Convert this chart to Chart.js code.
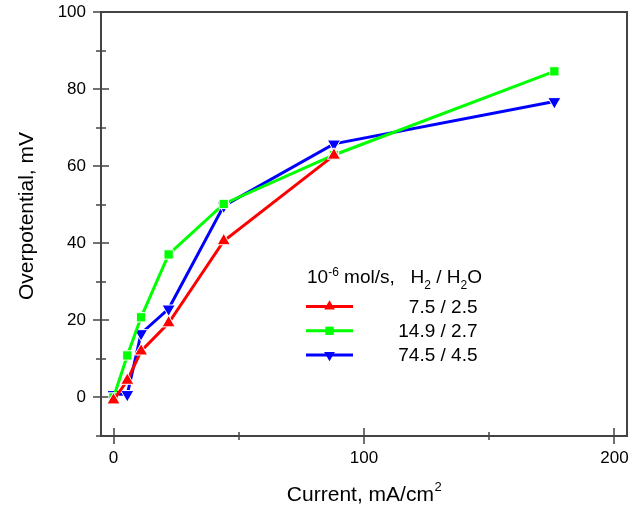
<!DOCTYPE html>
<html>
<head>
<meta charset="utf-8">
<script src="https://cdn.jsdelivr.net/npm/chart.js"></script>
<style>
  html, body { margin: 0; padding: 0; background: #fff; }
  #wrap { width: 641px; height: 506px; }
</style>
</head>
<body>
<div id="wrap"><canvas id="chart" width="641" height="506"></canvas></div>
<script>
// current density, mA/cm2 (same for all runs)
const current = [0, 5.5, 11, 22, 44, 88, 176];
// overpotential, mV
const redMv = [-0.7, 4.4, 12.0, 19.3, 40.6, 62.8];
const greenMv = [0, 10.9, 20.8, 37.1, 50.2, 62.9, 84.6];
const blueMv = [0.8, 0.8, 16.6, 23.0, 49.7, 65.8, 76.8];
const flowLabels = ['7.5 / 2.5', '14.9 / 2.7', '74.5 / 4.5'];

const xTicks = [0, 100, 200];
const xMinor = [50, 150];
const yTicks = [0, 20, 40, 60, 80, 100];
const yMinor = [-10, 10, 30, 50, 70, 90];

const FONT = "'Liberation Sans', Arial, sans-serif";
const AXIS = '#444';

const toPoints = (ys) => ys.map((y, i) => ({ x: current[i], y: y }));

function series(label, ys, color, style, rot) {
  const r = style === 'rect' ? 6.6 : 7.6;
  return {
    label: label,
    data: toPoints(ys),
    borderColor: color,
    backgroundColor: color,
    borderWidth: 3,
    pointStyle: style,
    pointRotation: rot,
    pointRadius: r,
    pointHoverRadius: r,
    pointBackgroundColor: color,
    pointBorderColor: '#fff',
    pointBorderWidth: 1,
    tension: 0
  };
}

function marker(ctx, style, rot, cx, cy, r) {
  ctx.beginPath();
  if (style === 'rect') {
    const s = r * Math.SQRT1_2;
    ctx.rect(cx - s, cy - s, 2 * s, 2 * s);
  } else {
    const d = rot ? -1 : 1;
    ctx.moveTo(cx, cy - d * r);
    ctx.lineTo(cx + r * 0.866, cy + d * r * 0.5);
    ctx.lineTo(cx - r * 0.866, cy + d * r * 0.5);
    ctx.closePath();
  }
  ctx.fill();
}

// box + ticks that cross the axis lines
const frame = {
  id: 'frame',
  beforeDatasetsDraw(chart) {
    const { ctx, chartArea: a, scales: { x, y } } = chart;
    ctx.save();
    ctx.strokeStyle = AXIS;
    ctx.lineWidth = 2;
    ctx.strokeRect(Math.round(a.left), Math.round(a.top), Math.round(a.right - a.left), Math.round(a.bottom - a.top));
    ctx.lineWidth = 1.5;
    ctx.beginPath();
    const b = Math.round(a.bottom), l = Math.round(a.left);
    xTicks.forEach(v => { const p = Math.round(x.getPixelForValue(v)); ctx.moveTo(p, b - 8); ctx.lineTo(p, b + 8); });
    xMinor.forEach(v => { const p = Math.round(x.getPixelForValue(v)); ctx.moveTo(p, b - 4); ctx.lineTo(p, b + 4); });
    yTicks.forEach(v => { const p = Math.round(y.getPixelForValue(v)); ctx.moveTo(l - 8, p); ctx.lineTo(l + 8, p); });
    yMinor.forEach(v => { const p = Math.round(y.getPixelForValue(v)); ctx.moveTo(l - 5, p); ctx.lineTo(l + 5, p); });
    ctx.stroke();
    ctx.restore();
  }
};

// axis titles and the legend box inside the plot
const labels = {
  id: 'labels',
  afterDraw(chart) {
    const { ctx, chartArea: a } = chart;
    ctx.save();
    ctx.fillStyle = '#000';
    ctx.textBaseline = 'alphabetic';

    // x title with superscript
    ctx.font = '21px ' + FONT;
    const main = 'Current, mA/cm';
    const wMain = ctx.measureText(main).width;
    ctx.font = '13px ' + FONT;
    const wSup = ctx.measureText('2').width;
    let x0 = (a.left + a.right) / 2 - (wMain + wSup) / 2;
    ctx.font = '21px ' + FONT;
    ctx.textAlign = 'left';
    ctx.fillText(main, x0, 500.5);
    ctx.font = '13px ' + FONT;
    ctx.fillText('2', x0 + wMain + 0.5, 491);

    // y title
    ctx.save();
    ctx.translate(33, 216);
    ctx.rotate(-Math.PI / 2);
    ctx.font = '21px ' + FONT;
    ctx.textAlign = 'center';
    ctx.fillText('Overpotential, mV', 0, 0);
    ctx.restore();

    // legend title: 10^-6 mol/s,  H2 / H2O
    const parts = [
      { t: '10', s: 19, dy: 0 },
      { t: '-6', s: 12, dy: -7 },
      { t: ' mol/s,   H', s: 19, dy: 0 },
      { t: '2', s: 12, dy: 6 },
      { t: ' / H', s: 19, dy: 0 },
      { t: '2', s: 12, dy: 6 },
      { t: 'O', s: 19, dy: 0 }
    ];
    let tx = 307;
    ctx.textAlign = 'left';
    parts.forEach(p => {
      ctx.font = p.s + 'px ' + FONT;
      ctx.fillText(p.t, tx, 282.5 + p.dy);
      tx += ctx.measureText(p.t).width;
    });

    // legend rows
    chart.data.datasets.forEach((ds, i) => {
      const cy = 306.5 + i * 24.3;
      ctx.strokeStyle = ds.borderColor;
      ctx.lineWidth = 3;
      ctx.beginPath();
      ctx.moveTo(306, cy);
      ctx.lineTo(353, cy);
      ctx.stroke();
      ctx.fillStyle = ds.borderColor;
      marker(ctx, ds.pointStyle, ds.pointRotation, 329.5, cy, ds.pointStyle === 'rect' ? 5.9 : 6.2);
      ctx.fillStyle = '#000';
      ctx.font = '19px ' + FONT;
      ctx.textAlign = 'right';
      ctx.fillText(flowLabels[i], 477.5, cy + 6.3);
    });
    ctx.restore();
  }
};

new Chart(document.getElementById('chart'), {
  type: 'line',
  data: {
    datasets: [
      series(flowLabels[0], redMv, '#ff0000', 'triangle', 0),
      series(flowLabels[1], greenMv, '#00ff00', 'rect', 0),
      series(flowLabels[2], blueMv, '#0000ff', 'triangle', 180)
    ]
  },
  options: {
    responsive: false,
    animation: false,
    layout: { autoPadding: false, padding: { top: 12, right: 14, left: 0, bottom: 0 } },
    plugins: {
      legend: { display: false },
      tooltip: { enabled: false }
    },
    scales: {
      x: {
        type: 'linear',
        min: -5,
        max: 205,
        grid: { display: false, drawTicks: false },
        border: { display: false },
        afterBuildTicks: s => { s.ticks = xTicks.map(v => ({ value: v })); },
        afterFit: s => { s.height = 70; s.paddingLeft = 0; s.paddingRight = 0; },
        ticks: { color: '#000', padding: 12, font: { family: FONT, size: 17 }, maxRotation: 0 }
      },
      y: {
        min: -10,
        max: 100,
        grid: { display: false, drawTicks: false },
        border: { display: false },
        afterBuildTicks: s => { s.ticks = yTicks.map(v => ({ value: v })); },
        afterFit: s => { s.width = 101; s.paddingTop = 0; s.paddingBottom = 0; },
        ticks: { color: '#000', padding: 15, font: { family: FONT, size: 17 } }
      }
    }
  },
  plugins: [frame, labels]
});
</script>
</body>
</html>
